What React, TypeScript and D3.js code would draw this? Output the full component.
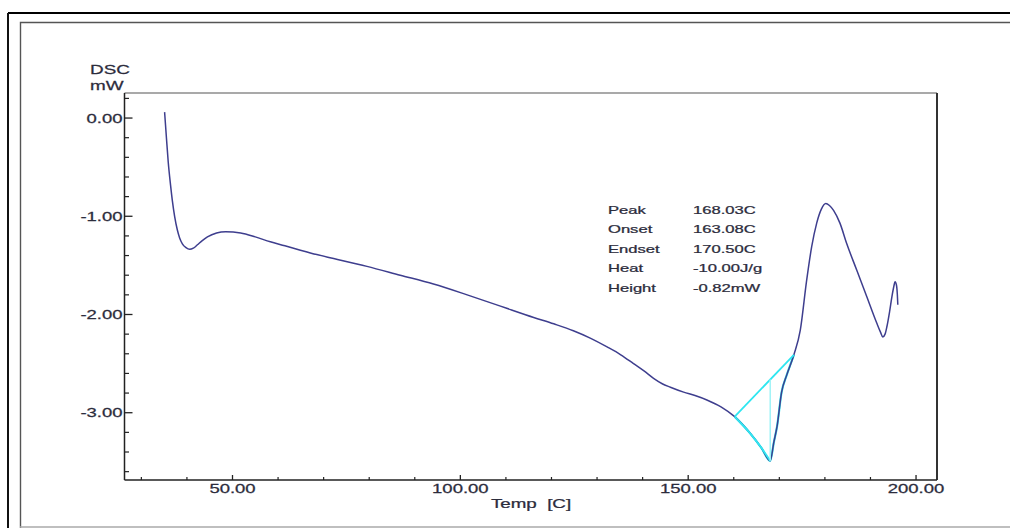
import * as d3 from "d3"

// DSC trace
const temps = [
  35.1, 35.5, 35.9, 36.4, 36.8, 37.3, 37.9, 38.4, 39.0, 39.8, 40.6, 41.4, 42.3, 43.3, 44.5, 46.5, 48.5,
  51.8, 55.0, 58.3, 61.5, 64.9, 68.5, 72.2, 79.5, 86.8, 94.1, 101.5, 108.8, 116.1, 120.5, 124.8,
  128.5, 132.2, 135.2, 138.0, 140.3, 142.4, 144.3, 146.1, 149.0, 151.5, 154.1, 157.2, 160.2,
  163.6, 166.1, 168.0, 168.8, 169.5, 170.5, 171.6, 173.2, 174.6, 176.0, 177.1, 178.2, 179.2,
  180.2, 181.0, 181.9, 183.3, 184.8, 187.0, 189.2, 191.4, 192.2, 192.7, 193.2, 193.6, 194.2,
  194.7, 195.1, 195.4, 195.7, 195.9, 196.0,
]
const dsc = [
  0.06, -0.2, -0.45, -0.68, -0.84, -1.0, -1.14, -1.22, -1.28, -1.32, -1.337, -1.325, -1.29, -1.25, -1.21, -1.17, -1.157,
  -1.17, -1.21, -1.26, -1.3, -1.345, -1.39, -1.43, -1.51, -1.6, -1.69, -1.8, -1.915, -2.03, -2.095, -2.165,
  -2.24, -2.33, -2.41, -2.5, -2.575, -2.65, -2.705, -2.74, -2.79, -2.825, -2.87, -2.94, -3.04,
  -3.21, -3.36, -3.49, -3.3, -3.14, -2.79, -2.62, -2.41, -2.16, -1.65, -1.31, -1.07, -0.93,
  -0.87, -0.89, -0.94, -1.07, -1.28, -1.55, -1.82, -2.09, -2.18, -2.23, -2.2, -2.125, -1.97,
  -1.82, -1.72, -1.667, -1.7, -1.8, -1.9,
]

// peak analysis
const onsetT = 160.2
const endT = 173.2
const peakT = 168.0
const statLabels = ["Peak", "Onset", "Endset", "Heat", "Height"]
const statValues = ["168.03C", "163.08C", "170.50C", "-10.00J/g", "-0.82mW"]

// axes
const xMajor = [50, 100, 150, 200]
const xMajorLabels = ["50.00", "100.00", "150.00", "200.00"]
const xMinor = [30, 40, 60, 70, 80, 90, 110, 120, 130, 140, 160, 170, 180, 190]
const yMajor = [0, -1, -2, -3]
const yMajorLabels = ["0.00", "-1.00", "-2.00", "-3.00"]
const yMinor = [0.2, -0.2, -0.4, -0.6, -0.8, -1.2, -1.4, -1.6, -1.8, -2.2, -2.4, -2.6, -2.8, -3.2, -3.4, -3.6]

const W = 1010
const H = 528
const left = 124.5
const right = 937
const top = 93
const bottom = 480
const font = "'Liberation Sans', Arial, sans-serif"
const textColor = "#2c2c3c"

const x = d3.scaleLinear().domain([26.3, 204.6]).range([left, right])
const y = d3.scaleLinear().domain([-3.685, 0.255]).range([bottom, top])

const points = temps.map((t, i) => [t, dsc[i]] as [number, number])
const valueAt = (t: number) => {
  const i = d3.bisector((p: [number, number]) => p[0]).left(points, t)
  if (i <= 0) return points[0][1]
  const a = points[i - 1]
  const b = points[i]
  return a[1] + ((b[1] - a[1]) * (t - a[0])) / (b[0] - a[0])
}

const line = d3
  .line<[number, number]>()
  .x((d) => x(d[0]))
  .y((d) => y(d[1]))
  .curve(d3.curveMonotoneX)

const Txt = ({ tx, ty, s, sx, anchor = "start", children }: any) => (
  <g transform={`translate(${tx},${ty}) scale(${sx},1)`}>
    <text x={0} y={0} fontSize={s} fontFamily={font} fill={textColor} textAnchor={anchor}
      stroke={textColor} strokeWidth={0.25}>
      {children}
    </text>
  </g>
)

const App = () => {
  const onsetV = valueAt(onsetT)
  const endV = valueAt(endT)
  const baseAtPeak = onsetV + ((endV - onsetV) * (peakT - onsetT)) / (endT - onsetT)
  const leftPart = points.filter((p) => p[0] >= onsetT && p[0] <= peakT)
  const fullPart = points.filter((p) => p[0] >= onsetT && p[0] <= endT)

  return (
    <svg width={W} height={H} style={{ position: "absolute", left: 0, top: 0, background: "#fff" }}>
      {/* frames */}
      <line x1={8} y1={13} x2={W} y2={13} stroke="#000" strokeWidth={2} />
      <line x1={8} y1={13} x2={8} y2={H} stroke="#111" strokeWidth={2} />
      <path d={`M20.5,${H} V22.5 H${W}`} fill="none" stroke="#555" strokeWidth={1.4} />
      <line x1={20} y1={527} x2={W} y2={527} stroke="#aaa" strokeWidth={1.4} />

      {/* plot box */}
      <line x1={left} y1={top} x2={right} y2={top} stroke="#555" strokeWidth={1.2} />
      <line x1={right} y1={top} x2={right} y2={bottom} stroke="#333" strokeWidth={2} />
      <line x1={left} y1={top} x2={left} y2={bottom} stroke="#222" strokeWidth={1.5} />
      <line x1={left} y1={bottom} x2={right} y2={bottom} stroke="#222" strokeWidth={1.5} />

      {/* y ticks */}
      {yMajor.map((v, i) => (
        <g key={"ym" + v}>
          <line x1={left} x2={left + 8} y1={y(v)} y2={y(v)} stroke="#222" strokeWidth={1.3} />
          <Txt tx={left - 2} ty={y(v) + 4.5} s={12.5} sx={1.48} anchor="end">
            {yMajorLabels[i]}
          </Txt>
        </g>
      ))}
      {yMinor.map((v) => (
        <line key={"yn" + v} x1={left} x2={left + 4.5} y1={y(v)} y2={y(v)} stroke="#222" strokeWidth={1.2} />
      ))}

      {/* x ticks */}
      {xMajor.map((v, i) => (
        <g key={"xm" + v}>
          <line x1={x(v)} x2={x(v)} y1={bottom} y2={bottom - 5} stroke="#222" strokeWidth={1.3} />
          <Txt tx={x(v)} ty={493} s={12.5} sx={1.48} anchor="middle">
            {xMajorLabels[i]}
          </Txt>
        </g>
      ))}
      {xMinor.map((v) => (
        <line key={"xn" + v} x1={x(v)} x2={x(v)} y1={bottom} y2={bottom - 3} stroke="#222" strokeWidth={1.2} />
      ))}

      {/* axis titles */}
      <Txt tx={90} ty={74} s={13.5} sx={1.4}>DSC</Txt>
      <Txt tx={90} ty={90} s={13.5} sx={1.4}>mW</Txt>
      <Txt tx={531} ty={508} s={12.5} sx={1.5} anchor="middle">
        {"Temp\u00a0\u00a0[C]"}
      </Txt>

      {/* peak analysis */}
      <path d={line(fullPart) || ""} fill="none" stroke="#33e8f2" strokeWidth={2.2} />
      <path d={line(points) || ""} fill="none" stroke="#3e3e8e" strokeWidth={1.5} />
      <path d={line(leftPart) || ""} fill="none" stroke="#33e8f2" strokeWidth={1.8} />
      <line
        x1={x(onsetT)}
        y1={y(onsetV)}
        x2={x(endT)}
        y2={y(endV)}
        stroke="#2ee6f0"
        strokeWidth={1.8}
      />
      <line
        x1={x(peakT)}
        y1={y(baseAtPeak)}
        x2={x(peakT)}
        y2={y(valueAt(peakT))}
        stroke="#9ff3f7"
        strokeWidth={1.5}
      />

      {statLabels.map((l, i) => (
        <g key={l}>
          <Txt tx={608} ty={213.5 + i * 19.6} s={10.5} sx={1.58}>{l}</Txt>
          <Txt tx={693} ty={213.5 + i * 19.6} s={10.5} sx={1.58}>{statValues[i]}</Txt>
        </g>
      ))}
    </svg>
  )
}

export default App
